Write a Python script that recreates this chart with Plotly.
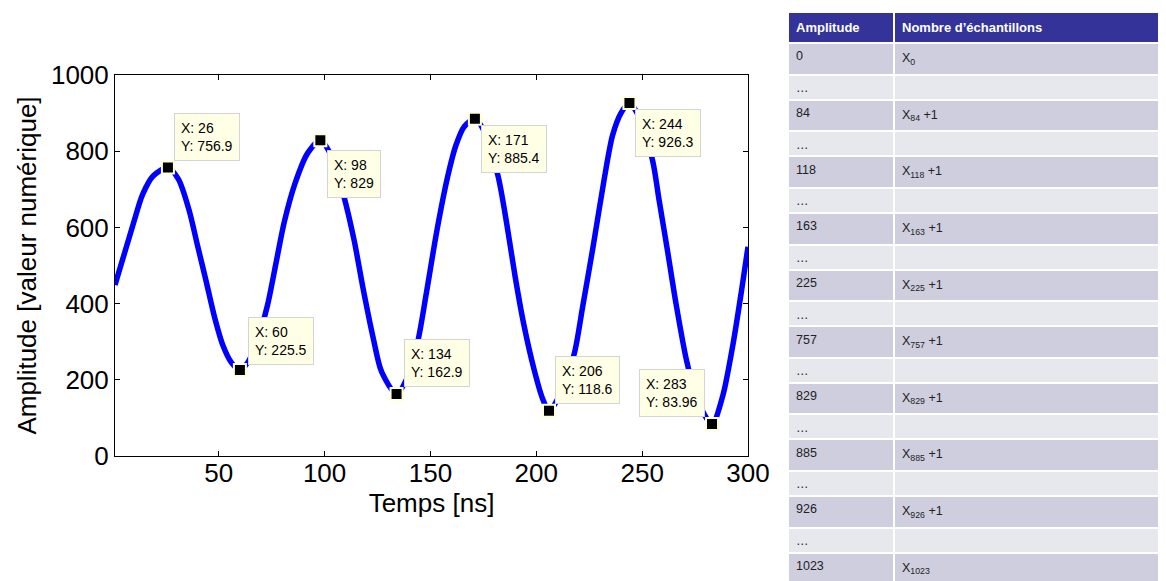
import plotly.graph_objects as go

# ---- signal ----
t_ns = [1, 10, 14, 19, 26, 31, 36, 40, 44, 48, 52, 56, 60, 64, 68, 73, 77, 81, 86,
        92, 98, 103, 109, 114, 118, 123, 127, 134, 139, 144, 148, 153, 158, 162,
        166, 171, 176, 182, 186, 190, 194, 199, 203, 206, 212, 218, 222, 227,
        232, 236, 240, 244, 249, 255, 258, 262, 266, 271, 276, 283, 288, 293, 297, 300]
amplitude = [449, 616, 686, 735, 756.9, 726, 645, 552, 460, 365, 290, 245, 225.5,
             248, 300, 395, 505, 615, 715, 795, 829, 790, 684, 565, 445, 309, 220,
             162.9, 205, 300, 425, 590, 730, 815, 865, 885.4, 845, 733, 611, 471,
             348, 226, 150, 118.6, 170, 270, 395, 555, 724, 841, 900, 926.3, 885, 774,
             672, 538, 400, 250, 148, 83.96, 156, 296, 436, 549]

# ---- data tips ----
tip_x = [26, 60, 98, 134, 171, 206, 244, 283]
tip_y = [756.9, 225.5, 829, 162.9, 885.4, 118.6, 926.3, 83.96]
tip_text = ["X: 26<br>Y: 756.9", "X: 60<br>Y: 225.5", "X: 98<br>Y: 829",
            "X: 134<br>Y: 162.9", "X: 171<br>Y: 885.4", "X: 206<br>Y: 118.6",
            "X: 244<br>Y: 926.3", "X: 283<br>Y: 83.96"]
# placement of each tip box: (xanchor, yanchor, xshift, yshift)
tip_place = [("left", "bottom", 6, 7), ("left", "bottom", 8, 5),
             ("left", "top", 7, -10), ("left", "bottom", 7, 7),
             ("left", "top", 6, -6), ("left", "bottom", 6, 7),
             ("left", "top", 6, -6), ("right", "bottom", -7, 7)]

# ---- table ----
tbl_header = ["Amplitude", "Nombre d’échantillons"]
tbl_amp = ["0", "…", "84", "…", "118", "…", "163", "…", "225", "…",
           "757", "…", "829", "…", "885", "…", "926", "…", "1023"]
tbl_count = ["X<sub>0</sub>", "", "X<sub>84</sub> +1", "", "X<sub>118</sub> +1", "",
             "X<sub>163</sub> +1", "", "X<sub>225</sub> +1", "",
             "X<sub>757</sub> +1", "", "X<sub>829</sub> +1", "",
             "X<sub>885</sub> +1", "", "X<sub>926</sub> +1", "", "X<sub>1023</sub>"]

FONT = "Liberation Sans, Arial, sans-serif"
W, H = 1166, 581
OFF = 8  # page body margin offset in px

fig = go.Figure()
fig.add_trace(go.Scatter(x=t_ns, y=amplitude, mode="lines",
                         line=dict(color="#0000FF", width=5.5, shape="spline", smoothing=0.8),
                         showlegend=False, hoverinfo="skip"))
fig.add_trace(go.Scatter(x=tip_x, y=tip_y, mode="markers",
                         marker=dict(symbol="square", size=12, color="black",
                                     line=dict(color="#FFFFD8", width=2)),
                         showlegend=False))

for x, y, txt, (xa, ya, xs, ys) in zip(tip_x, tip_y, tip_text, tip_place):
    fig.add_annotation(x=x, y=y, xref="x", yref="y", text=txt, showarrow=False,
                       xanchor=xa, yanchor=ya, xshift=xs, yshift=ys, align="left",
                       font=dict(family=FONT, size=14, color="black"),
                       bgcolor="#FFFFE6", bordercolor="#D4D4D4", borderwidth=1, borderpad=6)

row_colors = ["#CFCEDF" if a != "…" else "#E7E7EE" for a in tbl_amp]
fig.add_trace(go.Table(
    domain=dict(x=[(788 - OFF) / W, 1.0], y=[0, 1 - (12 - OFF) / H]),
    columnwidth=[106, 280],
    header=dict(values=["<b>%s</b>" % h for h in tbl_header],
                fill_color="#333399", align="left", height=27,
                line=dict(color="white", width=2),
                font=dict(family=FONT, size=13, color="white")),
    cells=dict(values=[tbl_amp, tbl_count], fill_color=[row_colors, row_colors],
               align="left", height=25, line=dict(color="white", width=2),
               font=dict(family=FONT, size=12.5, color="#222222"))))

axis_common = dict(showline=True, linecolor="black", linewidth=1, mirror="allticks",
                   ticks="inside", ticklen=5, tickcolor="black", showgrid=False,
                   zeroline=False, automargin=False,
                   tickfont=dict(family=FONT, size=26, color="black"))
fig.update_xaxes(range=[1, 300], tickvals=[50, 100, 150, 200, 250, 300],
                 domain=[(115 - OFF) / W, (748 - OFF) / W], ticklabelstandoff=-6,
                 title=dict(text="Temps [ns]", font=dict(family=FONT, size=26, color="black"),
                            standoff=0),
                 **axis_common)
fig.update_yaxes(range=[0, 1000], tickvals=[0, 200, 400, 600, 800, 1000],
                 domain=[1 - (456 - OFF) / H, 1 - (75 - OFF) / H],
                 title=dict(text="Amplitude [valeur numérique]",
                            font=dict(family=FONT, size=26, color="black"), standoff=6),
                 **axis_common)

fig.update_layout(width=W, height=H, margin=dict(l=0, r=0, t=0, b=0, autoexpand=False),
                  plot_bgcolor="white", paper_bgcolor="white",
                  font=dict(family=FONT))
fig.write_html("out.html")
